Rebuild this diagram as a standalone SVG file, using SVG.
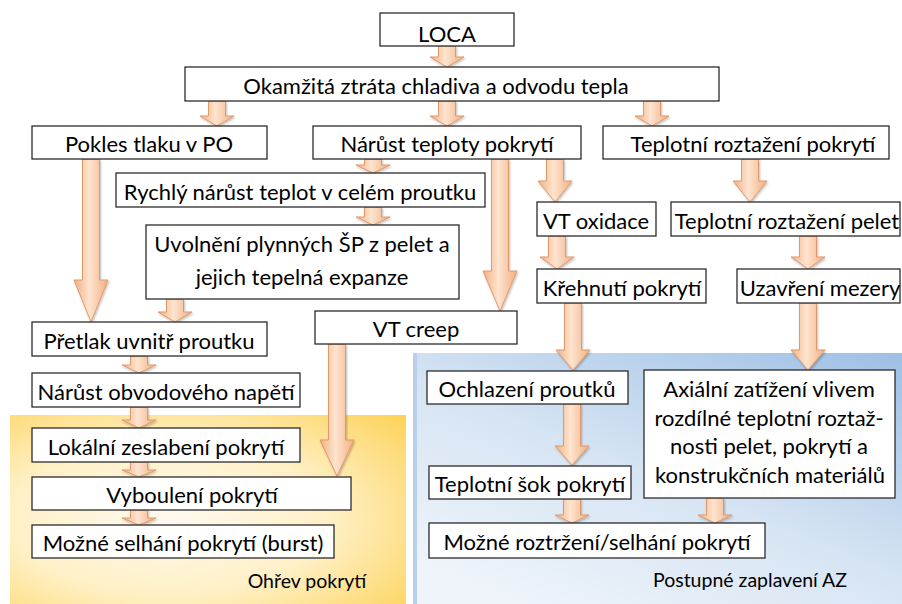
<svg xmlns="http://www.w3.org/2000/svg" width="902" height="604" viewBox="0 0 902 604">
<defs>
<linearGradient id="arrowFill" x1="0" y1="0" x2="1" y2="0">
<stop offset="0" stop-color="#f3b07f"/>
<stop offset="0.45" stop-color="#fde4d0"/>
<stop offset="1" stop-color="#f3b07f"/>
</linearGradient>
<radialGradient id="yellowBg" cx="0.4" cy="0.55" r="0.8">
<stop offset="0" stop-color="#fffaf0"/>
<stop offset="0.5" stop-color="#fff0c6"/>
<stop offset="1" stop-color="#fdd35a"/>
</radialGradient>
<linearGradient id="blueBg" x1="1" y1="0" x2="0.2" y2="1">
<stop offset="0" stop-color="#9dbfe5"/>
<stop offset="0.55" stop-color="#d6e4f3"/>
<stop offset="1" stop-color="#eef4fa"/>
</linearGradient>
<filter id="shadow" x="-30%" y="-10%" width="160%" height="130%">
<feDropShadow dx="1" dy="1.5" stdDeviation="1" flood-color="#000" flood-opacity="0.25"/>
</filter>
</defs>
<style>
.box{fill:#fff;stroke:#2b2b2b;stroke-width:1.3}
.t{font-family:Lato,"Liberation Sans",sans-serif;font-size:22px;fill:#000;text-anchor:middle}
.lbl{font-family:Lato,"Liberation Sans",sans-serif;font-size:19.5px;fill:#000;text-anchor:middle}
.arr{fill:url(#arrowFill);stroke:#e2976a;stroke-width:1;filter:url(#shadow)}
</style>
<rect width="902" height="604" fill="#fff"/>
<g id="bg-ohrev">
<rect x="10" y="415" width="396" height="189" fill="url(#yellowBg)"/>
<text class="lbl" x="307" y="588">Ohřev pokrytí</text>
</g>
<g id="bg-zaplaveni">
<rect x="413" y="353" width="489" height="251" fill="url(#blueBg)"/>
<rect x="413" y="353" width="4" height="251" fill="#b9cfea"/>
<text class="lbl" x="750" y="587">Postupné zaplavení AZ</text>
</g>
<g id="connectors">
<path class="arr" d="M438.5,46 H455.5 V57 H464 L447,67 L430,57 H438.5 Z"/>
<path class="arr" d="M208.5,101 H225.5 V116 H234 L217,126 L200,116 H208.5 Z"/>
<path class="arr" d="M438.5,101 H455.5 V116 H464 L447,126 L430,116 H438.5 Z"/>
<path class="arr" d="M643.5,101 H660.5 V116 H669 L652,126 L635,116 H643.5 Z"/>
<path class="arr" d="M82.5,159 H99.5 V280 H108 L91,322 L74,280 H82.5 Z"/>
<path class="arr" d="M364.5,159 H381.5 V165 H390 L373,173 L356,165 H364.5 Z"/>
<path class="arr" d="M491.5,159 H508.5 V271 H517 L500,311 L483,271 H491.5 Z"/>
<path class="arr" d="M546.5,159 H563.5 V181 H572 L555,202 L538,181 H546.5 Z"/>
<path class="arr" d="M741.5,159 H758.5 V181 H767 L750,202 L733,181 H741.5 Z"/>
<path class="arr" d="M364.5,207 H381.5 V217 H390 L373,225 L356,217 H364.5 Z"/>
<path class="arr" d="M166.5,299 H183.5 V312 H192 L175,322 L158,312 H166.5 Z"/>
<path class="arr" d="M548.5,236 H565.5 V257 H574 L557,269 L540,257 H548.5 Z"/>
<path class="arr" d="M799.5,236 H816.5 V257 H825 L808,269 L791,257 H799.5 Z"/>
<path class="arr" d="M130.5,356 H147.5 V365 H156 L139,373 L122,365 H130.5 Z"/>
<path class="arr" d="M130.5,407 H147.5 V420 H156 L139,428 L122,420 H130.5 Z"/>
<path class="arr" d="M130.5,462 H147.5 V470 H156 L139,477 L122,470 H130.5 Z"/>
<path class="arr" d="M130.5,510 H147.5 V518 H156 L139,525 L122,518 H130.5 Z"/>
<path class="arr" d="M328.5,344 H345.5 V440 H354 L337,476 L320,440 H328.5 Z"/>
<path class="arr" d="M564.5,303 H581.5 V350 H590 L573,370 L556,350 H564.5 Z"/>
<path class="arr" d="M799.5,303 H816.5 V350 H825 L808,370 L791,350 H799.5 Z"/>
<path class="arr" d="M563.5,404 H580.5 V446 H589 L572,465 L555,446 H563.5 Z"/>
<path class="arr" d="M563.5,499 H580.5 V515 H589 L572,523 L555,515 H563.5 Z"/>
<path class="arr" d="M706.5,498 H723.5 V515 H732 L715,523 L698,515 H706.5 Z"/>
</g>
<g id="n-loca"><rect class="box" x="380" y="13" width="134" height="33"/><text class="t" x="447" y="42">LOCA</text></g>
<g id="n-okamzita"><rect class="box" x="185" y="67" width="534" height="34"/><text class="t" x="436" y="94">Okamžitá ztráta chladiva a odvodu tepla</text></g>
<g id="n-pokles"><rect class="box" x="32" y="126" width="235" height="33"/><text class="t" x="149" y="152">Pokles tlaku v PO</text></g>
<g id="n-narust-teploty"><rect class="box" x="313" y="126" width="268" height="33"/><text class="t" x="447" y="152">Nárůst teploty pokrytí</text></g>
<g id="n-roztazeni-pokryti"><rect class="box" x="603" y="126" width="286" height="33"/><text class="t" x="753" y="152">Teplotní roztažení pokrytí</text></g>
<g id="n-rychly"><rect class="box" x="116" y="173" width="369" height="34"/><text class="t" x="300" y="200">Rychlý nárůst teplot v celém proutku</text></g>
<g id="n-uvolneni"><rect class="box" x="146" y="225" width="313" height="74"/><text class="t" x="302" y="252">Uvolnění plynných ŠP z pelet a</text><text class="t" x="302" y="285">jejich tepelná expanze</text></g>
<g id="n-vt-creep"><rect class="box" x="315" y="311" width="202" height="33"/><text class="t" x="416" y="337">VT creep</text></g>
<g id="n-vt-oxidace"><rect class="box" x="537" y="202" width="119" height="34"/><text class="t" x="596" y="229">VT oxidace</text></g>
<g id="n-roztazeni-pelet"><rect class="box" x="671" y="202" width="229" height="34"/><text class="t" x="787" y="229">Teplotní roztažení pelet</text></g>
<g id="n-pretlak"><rect class="box" x="32" y="322" width="235" height="34"/><text class="t" x="149" y="349">Přetlak uvnitř proutku</text></g>
<g id="n-krehnuti"><rect class="box" x="537" y="269" width="169" height="34"/><text class="t" x="622" y="296">Křehnutí pokrytí</text></g>
<g id="n-uzavreni"><rect class="box" x="737" y="269" width="163" height="34"/><text class="t" x="820" y="296">Uzavření mezery</text></g>
<g id="n-narust-napeti"><rect class="box" x="32" y="373" width="268" height="34"/><text class="t" x="166" y="400">Nárůst obvodového napětí</text></g>
<g id="n-lokalni"><rect class="box" x="32" y="428" width="268" height="34"/><text class="t" x="166" y="455">Lokální zeslabení pokrytí</text></g>
<g id="n-vyboulení"><rect class="box" x="32" y="477" width="319" height="33"/><text class="t" x="192" y="503">Vyboulení pokrytí</text></g>
<g id="n-burst"><rect class="box" x="32" y="525" width="302" height="33"/><text class="t" x="183" y="551">Možné selhání pokrytí (burst)</text></g>
<g id="n-ochlazeni"><rect class="box" x="427" y="371" width="201" height="33"/><text class="t" x="527" y="397">Ochlazení proutků</text></g>
<g id="n-axialni"><rect class="box" x="644" y="370" width="251" height="128"/><text class="t" x="769" y="397">Axiální zatížení vlivem</text><text class="t" x="769" y="426">rozdílné teplotní roztaž-</text><text class="t" x="769" y="454">nosti pelet, pokrytí a</text><text class="t" x="770" y="483">konstrukčních materiálů</text></g>
<g id="n-sok"><rect class="box" x="429" y="466" width="202" height="33"/><text class="t" x="530" y="492">Teplotní šok pokrytí</text></g>
<g id="n-roztrzeni"><rect class="box" x="429" y="523" width="336" height="35"/><text class="t" x="597" y="550">Možné roztržení/selhání pokrytí</text></g>
</svg>
